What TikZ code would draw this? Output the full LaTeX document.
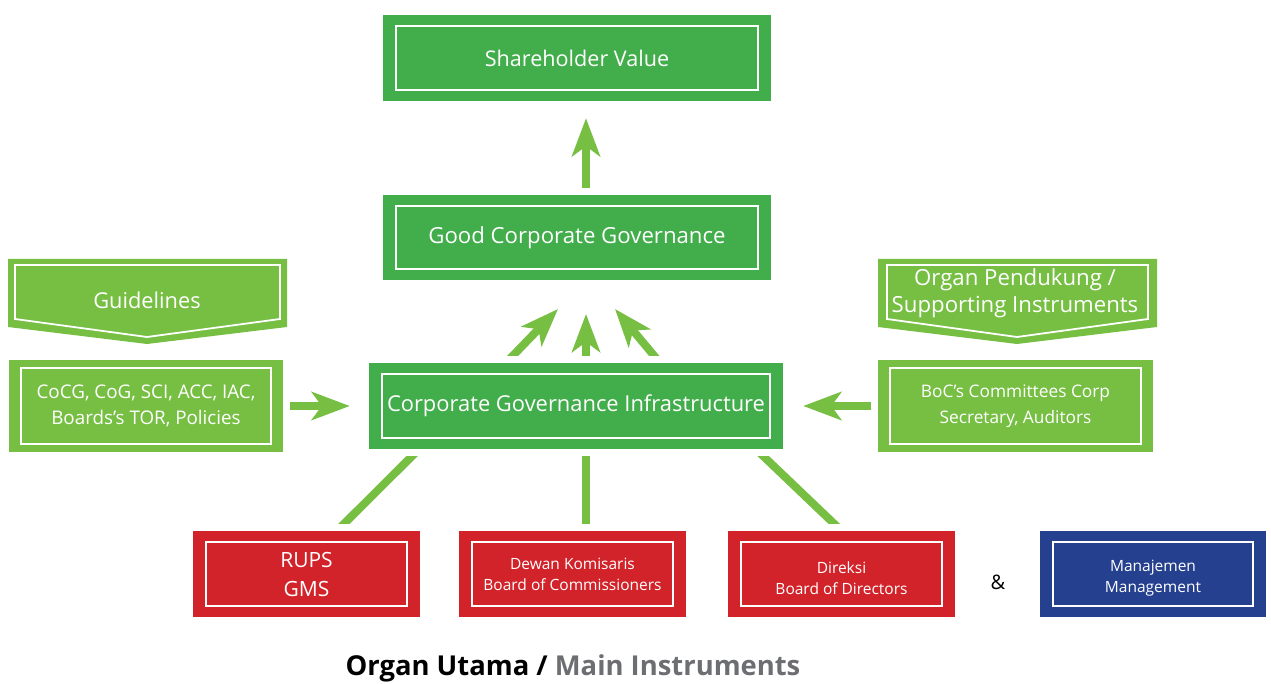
\documentclass[tikz,border=0pt]{standalone}
\usepackage{fontspec}
\setmainfont{Open Sans}
\usepackage{xcolor}
\usetikzlibrary{arrows.meta}

\definecolor{cgGreen}{RGB}{66,173,75}
\definecolor{cgLime}{RGB}{118,191,67}
\definecolor{cgRed}{RGB}{210,35,42}
\definecolor{cgBlue}{RGB}{36,64,142}
\definecolor{cgGray}{RGB}{109,110,113}

\pgfdeclarelayer{back}
\pgfsetlayers{back,main}

\tikzset{
    boxinx/.store in=\boxinx, boxiny/.store in=\boxiny,
    boxinx=13pt, boxiny=11pt,
    box/.style={fill=#1, text=white, align=center, inner sep=0pt,
        preaction={draw=white, line width=14pt},
        path picture={\draw[white, line width=1.8pt]
            ([shift={(\boxinx,-\boxiny)}]path picture bounding box.north west) rectangle
            ([shift={(-\boxinx,\boxiny)}]path picture bounding box.south east);}},
    bigarrow/.style={cgLime, line width=8pt, -{Stealth[length=38pt, width=28pt, inset=10pt]}},
    feedline/.style={cgLime, line width=8pt},
}

\begin{document}
\begin{tikzpicture}[x=1pt, y=-1pt]
    \useasboundingbox (0, 0) rectangle (1271, 684);
    % Top level
    \node[box=cgGreen, minimum width=388, minimum height=86, font=\fontsize{21.6}{25}\selectfont]
        (sv) at (577, 58) {Shareholder Value};
    \node[box=cgGreen, minimum width=388, minimum height=85, font=\fontsize{22.2}{25}\selectfont]
        (gcg) at (577, 237.5) {Good Corporate Governance};
    % Infrastructure
    \node[box=cgGreen, minimum width=414, minimum height=86, font=\fontsize{21.9}{25}\selectfont]
        (cgi) at (576, 406) {Corporate Governance Infrastructure};
    % Guidelines
    \fill[cgLime] (8, 259) -- (287, 259) -- (287, 327) -- (147, 344) -- (8, 327) -- cycle;
    \draw[white, line width=1.8pt] (15, 265) -- (280, 265) -- (280, 319) -- (147, 337) -- (15, 319) -- cycle;
    \node[text=white, font=\fontsize{21.8}{25}\selectfont] (guide) at (147, 300) {Guidelines};
    \node[box=cgLime, boxinx=12pt, boxiny=8pt, minimum width=274, minimum height=92,
        font=\fontsize{18.8}{26}\selectfont] (coco) at (146, 406) {CoCG, CoG, SCI, ACC, IAC,\\Boards's TOR, Policies};
    % Supporting instruments
    \fill[cgLime] (878, 259) -- (1157, 259) -- (1157, 327) -- (1017, 344) -- (878, 327) -- cycle;
    \draw[white, line width=1.8pt] (887, 265) -- (1148, 265) -- (1148, 319) -- (1017, 337) -- (887, 319) -- cycle;
    \node[text=white, align=center, font=\fontsize{22.2}{27}\selectfont] (organ) at (1015, 293)
        {Organ Pendukung /\\Supporting Instruments};
    \node[box=cgLime, boxinx=12pt, boxiny=8pt, minimum width=275, minimum height=92,
        font=\fontsize{17.3}{26}\selectfont] (boc) at (1015.5, 406) {BoC's Committees Corp\\Secretary, Auditors};
    % Main instruments
    \node[box=cgRed, minimum width=227, minimum height=86, font=\fontsize{21}{29}\selectfont]
        (rups) at (306.5, 574) {RUPS\\GMS};
    \node[box=cgRed, minimum width=227, minimum height=86, font=\fontsize{15.5}{21}\selectfont]
        (dewan) at (572.5, 574) {Dewan Komisaris\\Board of Commissioners};
    \node[box=cgRed, minimum width=227, minimum height=86, font=\fontsize{15.5}{21}\selectfont]
        (direksi) at (841.5, 574) {\parbox{200pt}{\centering\vspace*{8pt}Direksi\\Board of Directors}};
    \node[font=\fontsize{20}{24}\selectfont] (amp) at (998, 582) {\&};
    \node[box=cgBlue, minimum width=226, minimum height=86, font=\fontsize{15.5}{21}\selectfont]
        (mgmt) at (1153, 574) {\parbox{200pt}{\centering\vspace*{8pt}Manajemen\\Management}};
    \node[font=\fontsize{27.4}{30}\selectfont\bfseries] (title) at (573, 668)
        {Organ Utama / \textcolor{cgGray}{Main Instruments}};
    % Arrow tips
    \coordinate (tipl) at (558, 309);
    \coordinate (tipm) at (586, 314);
    \coordinate (tipr) at (615, 309);
    % Connectors
    \begin{pgfonlayer}{back}
        \draw[bigarrow] ([xshift=9pt]gcg.north) -- ([xshift=9pt, yshift=-17pt]sv.south);
        \draw[bigarrow] ([xshift=-70pt]cgi.north) -- (tipl);
        \draw[bigarrow] ([xshift=10pt]cgi.north) -- (tipm);
        \draw[bigarrow] ([xshift=84pt]cgi.north) -- (tipr);
        \draw[bigarrow] (coco.east) -- ([xshift=-19pt]cgi.west);
        \draw[bigarrow] (boc.west) -- ([xshift=20pt]cgi.east);
        \draw[feedline] ([xshift=30.5pt]rups.north) -- ([xshift=-157pt]cgi.south);
        \draw[feedline] ([xshift=13.5pt]dewan.north) -- ([xshift=10pt]cgi.south);
        \draw[feedline] (direksi.north) -- ([xshift=180pt]cgi.south);
    \end{pgfonlayer}
\end{tikzpicture}
\end{document}
